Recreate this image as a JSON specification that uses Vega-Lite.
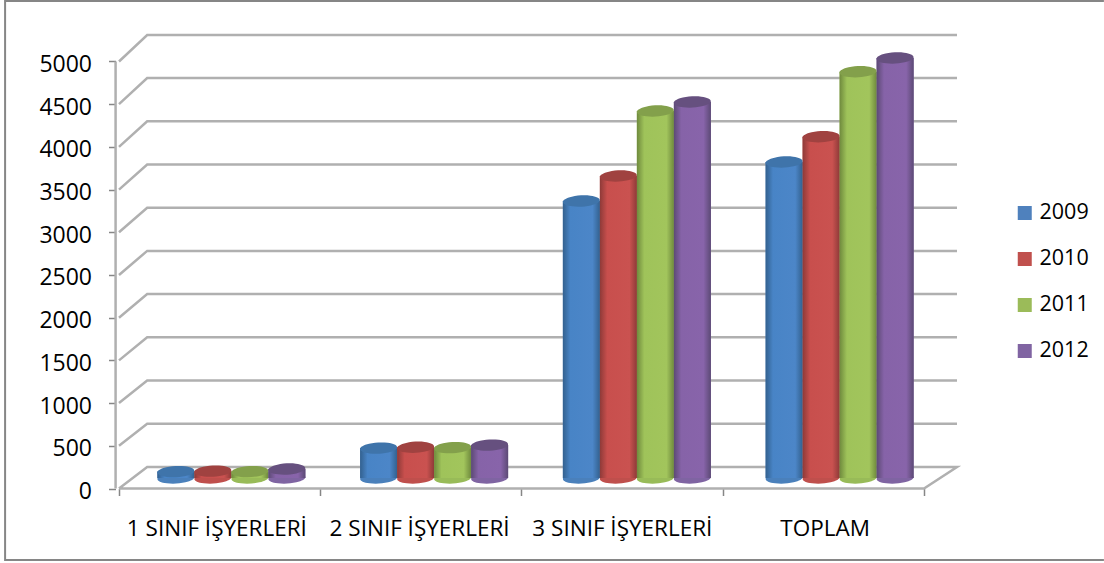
{"$schema":"https://vega.github.io/schema/vega-lite/v6.json","autosize":{"type":"none"},"padding":{"left":119,"top":35,"right":147,"bottom":74.5},"width":838,"height":453.5,"background":"white","config":{"view":{"stroke":null},"font":"Open Sans"},
"datasets":{
"bars":[
{"category":"1 SINIF İŞYERLERİ","year":"2009","value":75},{"category":"1 SINIF İŞYERLERİ","year":"2010","value":80},{"category":"1 SINIF İŞYERLERİ","year":"2011","value":75},{"category":"1 SINIF İŞYERLERİ","year":"2012","value":105},
{"category":"2 SINIF İŞYERLERİ","year":"2009","value":350},{"category":"2 SINIF İŞYERLERİ","year":"2010","value":360},{"category":"2 SINIF İŞYERLERİ","year":"2011","value":355},{"category":"2 SINIF İŞYERLERİ","year":"2012","value":385},
{"category":"3 SINIF İŞYERLERİ","year":"2009","value":3243},{"category":"3 SINIF İŞYERLERİ","year":"2010","value":3536},{"category":"3 SINIF İŞYERLERİ","year":"2011","value":4297},{"category":"3 SINIF İŞYERLERİ","year":"2012","value":4403},
{"category":"TOPLAM","year":"2009","value":3700},{"category":"TOPLAM","year":"2010","value":3996},{"category":"TOPLAM","year":"2011","value":4757},{"category":"TOPLAM","year":"2012","value":4918}],
"grid":[
{"g":"floor","o":0,"u":0,"v":0},{"g":"floor","o":1,"u":4,"v":0},{"g":"floor","o":2,"u":4.164,"v":252},{"g":"floor","o":3,"u":0.14,"v":252},{"g":"floor","o":4,"u":0,"v":0},
{"g":"l500","o":0,"u":0,"v":500},{"g":"l500","o":1,"u":0.14,"v":758},{"g":"l500","o":2,"u":4.164,"v":758},
{"g":"l1000","o":0,"u":0,"v":1000},{"g":"l1000","o":1,"u":0.14,"v":1264},{"g":"l1000","o":2,"u":4.164,"v":1264},
{"g":"l1500","o":0,"u":0,"v":1500},{"g":"l1500","o":1,"u":0.14,"v":1770},{"g":"l1500","o":2,"u":4.164,"v":1770},
{"g":"l2000","o":0,"u":0,"v":2000},{"g":"l2000","o":1,"u":0.14,"v":2276},{"g":"l2000","o":2,"u":4.164,"v":2276},
{"g":"l2500","o":0,"u":0,"v":2500},{"g":"l2500","o":1,"u":0.14,"v":2782},{"g":"l2500","o":2,"u":4.164,"v":2782},
{"g":"l3000","o":0,"u":0,"v":3000},{"g":"l3000","o":1,"u":0.14,"v":3288},{"g":"l3000","o":2,"u":4.164,"v":3288},
{"g":"l3500","o":0,"u":0,"v":3500},{"g":"l3500","o":1,"u":0.14,"v":3794},{"g":"l3500","o":2,"u":4.164,"v":3794},
{"g":"l4000","o":0,"u":0,"v":4000},{"g":"l4000","o":1,"u":0.14,"v":4300},{"g":"l4000","o":2,"u":4.164,"v":4300},
{"g":"l4500","o":0,"u":0,"v":4500},{"g":"l4500","o":1,"u":0.14,"v":4806},{"g":"l4500","o":2,"u":4.164,"v":4806},
{"g":"l5000","o":0,"u":0,"v":5000},{"g":"l5000","o":1,"u":0.14,"v":5310},{"g":"l5000","o":2,"u":4.164,"v":5310},
{"g":"yaxis","o":0,"u":-0.017,"v":0},{"g":"yaxis","o":1,"u":-0.017,"v":5000}],
"frame":[{"o":0,"u":4.894,"v":5708},{"o":1,"u":-0.566,"v":5708},{"o":2,"u":-0.566,"v":-837},{"o":3,"u":4.894,"v":-837}]
},
"layer":[
{"encoding":{
"x":{"field":"u","type":"quantitative","scale":{"domain":[0,4.164],"nice":false,"zero":false},"axis":{"values":[0,1,2,3,4],"labels":false,"domain":false,"grid":false,"ticks":true,"tickSize":7,"tickColor":"#868686","tickWidth":1.5,"title":null}},
"y":{"field":"v","type":"quantitative","scale":{"domain":[0,5310],"nice":false,"zero":false},"axis":{"values":[0,500,1000,1500,2000,2500,3000,3500,4000,4500,5000],"format":"d","domain":false,"grid":false,"offset":3.5,"tickSize":7,"tickColor":"#868686","tickWidth":1.5,"labelFontSize":23,"labelColor":"#000000","labelPadding":17,"labelOffset":3,"title":null}},
"order":{"field":"o","type":"quantitative"}},
"layer":[
{"data":{"name":"frame"},"mark":{"type":"line","stroke":"#868686","strokeWidth":2,"clip":false}},
{"data":{"name":"grid"},"mark":{"type":"line","stroke":"#b0b0b0","strokeWidth":2.5,"clip":false,"strokeJoin":"miter"},"encoding":{"detail":{"field":"g"}}}
]},
{"data":{"name":"bars"},
"encoding":{
"x":{"field":"category","type":"nominal","scale":{"range":[11,822],"paddingInner":0,"paddingOuter":0},"axis":{"orient":"bottom","labelAngle":0,"labelOffset":-14.5,"tickSize":0,"ticks":false,"domain":false,"grid":false,"labelFontSize":22.5,"labelColor":"#000000","labelPadding":29,"labelLimit":250,"title":null}},
"xOffset":{"field":"year","type":"nominal","scale":{"paddingInner":0,"paddingOuter":0.74}},
"y":{"field":"value","type":"quantitative","stack":null,"scale":{"domain":[-123,5187],"nice":false,"zero":false},"axis":null}},
"layer":[
{"mark":{"type":"point","filled":true,"shape":"M-0.9986,0.052 A1,0.3 -3 1,1 0.9986,-0.052 A1,0.3 -3 1,1 -0.9986,0.052 Z","size":1369,"opacity":1},
"encoding":{"y":{"datum":0,"type":"quantitative"},
"fill":{"condition":[{"test":"datum.year==='2009'","value":"#4a80bb"},{"test":"datum.year==='2010'","value":"#bf4f4c"},{"test":"datum.year==='2011'","value":"#98bb58"}],"value":"#7f64a2"}}},
{"mark":{"type":"bar"},
"encoding":{"y2":{"datum":0},
"color":{"field":"year","type":"nominal","scale":{"domain":["2009","2010","2011","2012"],"range":["#4F81BD","#C0504D","#9BBB59","#8064A2"]},
"legend":{"orient":"none","legendX":895,"legendY":164,"title":null,"symbolType":"square","symbolSize":196,"symbolStrokeWidth":0,"labelFontSize":21.5,"labelColor":"#000000","labelOffset":4,"rowPadding":18,"clipHeight":28}}}},
{"mark":{"type":"bar"},
"encoding":{"y2":{"datum":0},
"fill":{"condition":[
{"test":"datum.year==='2009'","value":{"gradient":"linear","x1":0,"x2":1,"y1":0,"y2":0,"stops":[{"offset":0,"color":"#33618f"},{"offset":0.2,"color":"#4884c6"},{"offset":0.8,"color":"#4c86c8"},{"offset":1,"color":"#33618f"}]}},
{"test":"datum.year==='2010'","value":{"gradient":"linear","x1":0,"x2":1,"y1":0,"y2":0,"stops":[{"offset":0,"color":"#8e3a38"},{"offset":0.2,"color":"#c84f4d"},{"offset":0.8,"color":"#ca5250"},{"offset":1,"color":"#8e3a38"}]}},
{"test":"datum.year==='2011'","value":{"gradient":"linear","x1":0,"x2":1,"y1":0,"y2":0,"stops":[{"offset":0,"color":"#6f8a3d"},{"offset":0.2,"color":"#9fc35a"},{"offset":0.8,"color":"#a2c55c"},{"offset":1,"color":"#6f8a3d"}]}}],
"value":{"gradient":"linear","x1":0,"x2":1,"y1":0,"y2":0,"stops":[{"offset":0,"color":"#5c4a75"},{"offset":0.2,"color":"#8663a8"},{"offset":0.8,"color":"#8864aa"},{"offset":1,"color":"#5c4a75"}]}}}},
{"mark":{"type":"point","filled":true,"shape":"M-0.9986,0.052 A1,0.3 -3 1,1 0.9986,-0.052 A1,0.3 -3 1,1 -0.9986,0.052 Z","size":1369,"opacity":1},
"encoding":{"fill":{"condition":[{"test":"datum.year==='2009'","value":"#3f74aa"},{"test":"datum.year==='2010'","value":"#a04240"},{"test":"datum.year==='2011'","value":"#83a04b"}],"value":"#66507f"}}}
]}
],
"resolve":{"scale":{"x":"independent","y":"independent"}}
}
